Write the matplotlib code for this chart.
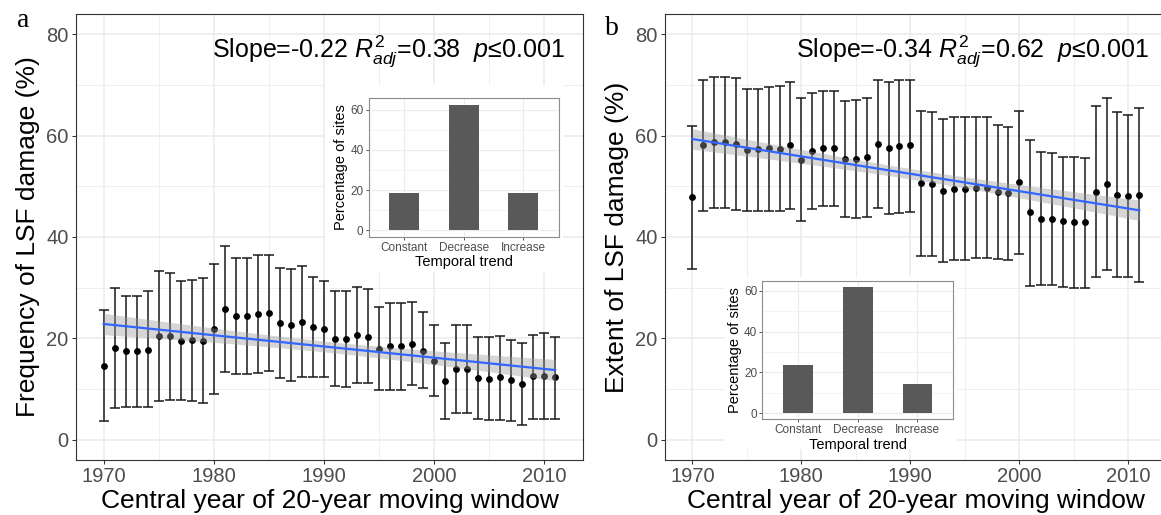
"""
Frequency and extent of LSF damage per central year of a 20-year moving window,
with inset bar charts of the temporal trend per site.
"""
import numpy as np
import matplotlib
matplotlib.use("Agg")  # no display
import matplotlib.pyplot as plt
from matplotlib.patches import Rectangle

plt.rcParams["font.family"] = ["Liberation Sans", "DejaVu Sans"]
plt.rcParams["mathtext.fontset"] = "custom"
plt.rcParams["mathtext.rm"] = "Liberation Sans"
plt.rcParams["mathtext.it"] = "Liberation Sans:italic"

# Data
years = np.arange(1970, 2012)

freq_mean = [14.6, 18.1, 17.5, 17.5, 17.8, 20.4, 20.4, 19.5, 19.7, 19.5,
             21.9, 25.8, 24.5, 24.5, 24.8, 25.0, 23.0, 22.6, 23.3, 22.2,
             21.9, 19.9, 19.9, 20.7, 20.2, 18.0, 18.5, 18.5, 18.9, 17.6,
             15.5, 11.6, 13.9, 13.9, 12.2, 12.0, 12.4, 11.7, 11.0, 12.5,
             12.6, 12.3]
freq_upper = [25.5, 30.0, 28.4, 28.4, 29.3, 33.3, 32.9, 31.4, 31.6, 32.0,
              34.6, 38.2, 35.9, 35.9, 36.5, 36.5, 33.9, 33.6, 34.3, 32.2,
              31.4, 29.3, 29.4, 30.2, 29.7, 26.1, 27.0, 27.0, 27.1, 25.2,
              22.6, 19.1, 22.6, 22.7, 20.2, 20.2, 20.5, 19.7, 19.1, 20.6,
              21.0, 20.2]
freq_lower = [3.7, 6.2, 6.5, 6.5, 6.4, 7.6, 7.8, 7.8, 7.6, 7.2,
              9.1, 13.3, 13.0, 13.0, 13.1, 13.5, 12.2, 11.6, 12.4, 12.4,
              12.3, 10.6, 10.5, 11.1, 11.1, 9.8, 9.9, 9.9, 10.7, 10.3,
              8.6, 4.1, 5.3, 5.3, 4.1, 3.8, 3.8, 3.6, 3.0, 4.1,
              4.1, 4.1]

extent_mean = [47.8, 58.1, 58.7, 58.7, 58.4, 57.2, 57.4, 57.5, 57.4, 58.1,
               55.2, 57.0, 57.5, 57.5, 55.4, 55.4, 55.8, 58.4, 57.5, 57.9,
               58.1, 50.6, 50.5, 49.1, 49.5, 49.5, 49.6, 49.6, 48.8, 48.7,
               50.8, 44.9, 43.6, 43.6, 43.1, 42.9, 42.9, 48.8, 50.5, 48.3,
               48.1, 48.3]
extent_upper = [61.9, 70.9, 71.5, 71.5, 71.3, 69.3, 69.3, 69.6, 69.7, 70.6,
                67.5, 68.4, 68.8, 68.8, 66.9, 67.1, 67.4, 70.9, 70.5, 70.9,
                71.0, 64.9, 64.6, 63.2, 63.6, 63.6, 63.6, 63.6, 62.1, 61.8,
                64.8, 59.2, 56.7, 56.5, 55.8, 55.8, 55.6, 65.9, 67.5, 64.6,
                64.1, 65.4]
extent_lower = [33.7, 45.2, 45.8, 45.8, 45.4, 45.2, 45.2, 45.2, 45.1, 45.6,
                43.1, 45.6, 46.2, 46.2, 44.0, 43.8, 44.0, 45.7, 44.5, 44.7,
                45.0, 36.2, 36.2, 35.0, 35.4, 35.5, 35.8, 35.8, 35.6, 35.5,
                36.7, 30.4, 30.5, 30.6, 30.2, 29.9, 29.9, 32.1, 33.4, 32.1,
                32.1, 31.2]

trend_labels = ["Constant", "Decrease", "Increase"]
freq_trend_pct = [18.8, 62.5, 18.8]
extent_trend_pct = [23.8, 61.9, 14.3]

# Figure geometry (pixels of the 1161x515 output)
W, H = 1161, 515
GRID = "#EBEBEB"
DARK = "#333333"
TICKTXT = "#4D4D4D"


def frac(left, top, right, bottom):
    return [left / W, 1 - bottom / H, (right - left) / W, (bottom - top) / H]


def estilo_principal(ax):
    ax.set_xlim(1967.46, 2013.55)
    ax.set_ylim(-4, 84)
    ax.set_xticks([1970, 1980, 1990, 2000, 2010])
    ax.set_xticks([1975, 1985, 1995, 2005], minor=True)
    ax.set_yticks([0, 20, 40, 60, 80])
    ax.set_yticks([10, 30, 50, 70], minor=True)
    ax.grid(which="major", color=GRID, lw=1.1, zorder=0)
    ax.grid(which="minor", color=GRID, lw=0.55, zorder=0)
    ax.set_axisbelow(True)
    ax.tick_params(which="major", length=2.75, width=0.75, color=DARK,
                   labelcolor=TICKTXT, labelsize=14.5, pad=2.5)
    ax.tick_params(which="minor", length=0)
    for s in ax.spines.values():
        s.set_color(DARK)
        s.set_linewidth(0.8)


def serie(ax, mean, lower, upper, ylabel, anotacion):
    mean = np.asarray(mean)
    lower = np.asarray(lower)
    upper = np.asarray(upper)
    ax.errorbar(years, mean, yerr=[mean - lower, upper - mean], fmt="none",
                ecolor="#1A1A1A", elinewidth=1.1, capsize=3.6, capthick=1.1,
                zorder=2)
    ax.plot(years, mean, "o", color="black", ms=3.9, zorder=3)

    # lm fit with 95% confidence band
    coef = np.polyfit(years, mean, 1)
    resid = mean - np.polyval(coef, years)
    n = len(years)
    s = np.sqrt(np.sum(resid ** 2) / (n - 2))
    xs = np.linspace(years.min(), years.max(), 100)
    sxx = np.sum((years - years.mean()) ** 2)
    se = s * np.sqrt(1 / n + (xs - years.mean()) ** 2 / sxx)
    fit = np.polyval(coef, xs)
    ax.fill_between(xs, fit - 2.021 * se, fit + 2.021 * se, color="#999999",
                    alpha=0.4, lw=0, zorder=4)
    ax.plot(xs, fit, color="#3366FF", lw=1.6, zorder=5)

    estilo_principal(ax)
    ax.set_xlabel("Central year of 20-year moving window", fontsize=19,
                  labelpad=2)
    ax.set_ylabel(ylabel, fontsize=19, labelpad=4)
    ax.text(0.964, 0.9036, anotacion, transform=ax.transAxes, ha="right",
            va="baseline", fontsize=18)


def inset(fig, rect_frame, rect_blanco, valores):
    l, t, r, b = rect_blanco
    fig.add_artist(Rectangle((l / W, 1 - b / H), (r - l) / W, (b - t) / H,
                             transform=fig.transFigure, facecolor="white",
                             edgecolor="none", zorder=1))
    axi = fig.add_axes(frac(*rect_frame))
    axi.set_zorder(2)
    pos = np.arange(1, len(trend_labels) + 1)
    axi.bar(pos, valores, width=0.5, color="#595959", zorder=2)
    axi.set_xlim(0.4, 3.6)
    axi.set_ylim(-0.05 * max(valores), 1.05 * max(valores))
    axi.set_xticks(pos)
    axi.set_xticklabels(trend_labels)
    axi.set_yticks([0, 20, 40, 60])
    axi.set_yticks([10, 30, 50], minor=True)
    axi.grid(which="major", color=GRID, lw=0.8, zorder=0)
    axi.grid(which="minor", axis="y", color=GRID, lw=0.4, zorder=0)
    axi.set_axisbelow(True)
    axi.tick_params(which="major", length=2.2, width=0.6, color=DARK,
                    labelcolor=TICKTXT, labelsize=8.5, pad=1.5)
    axi.tick_params(which="minor", length=0)
    for s in axi.spines.values():
        s.set_color("#8C8C8C")
        s.set_linewidth(0.8)
    axi.set_xlabel("Temporal trend", fontsize=10.5, labelpad=1)
    axi.set_ylabel("Percentage of sites", fontsize=10.5, labelpad=1.5)


def main():
    fig = plt.figure(figsize=(W / 100, H / 100), dpi=100)

    ax_a = fig.add_axes(frac(75.7, 14, 583.3, 460))
    serie(ax_a, freq_mean, freq_lower, freq_upper,
          "Frequency of LSF damage (%)",
          r"Slope=-0.22 $R^{\mathrm{2}}_{adj}$=0.38  $p$≤0.001")

    ax_b = fig.add_axes(frac(664.7, 14, 1167, 460))
    serie(ax_b, extent_mean, extent_lower, extent_upper,
          "Extent of LSF damage (%)",
          r"Slope=-0.34 $R^{\mathrm{2}}_{adj}$=0.62  $p$≤0.001")

    inset(fig, (368.7, 98.3, 558.7, 236.7), (325, 85, 563, 272),
          freq_trend_pct)
    inset(fig, (762.3, 280.7, 953.3, 419.3), (725, 277, 957, 449),
          extent_trend_pct)

    fig.text(17 / W, 1 - 27 / H, "a", family="Liberation Serif", fontsize=20,
             va="baseline")
    fig.text(605 / W, 1 - 35 / H, "b", family="Liberation Serif", fontsize=20,
             va="baseline")

    fig.savefig("out.png", dpi=100)
    plt.close(fig)


if __name__ == "__main__":
    main()
